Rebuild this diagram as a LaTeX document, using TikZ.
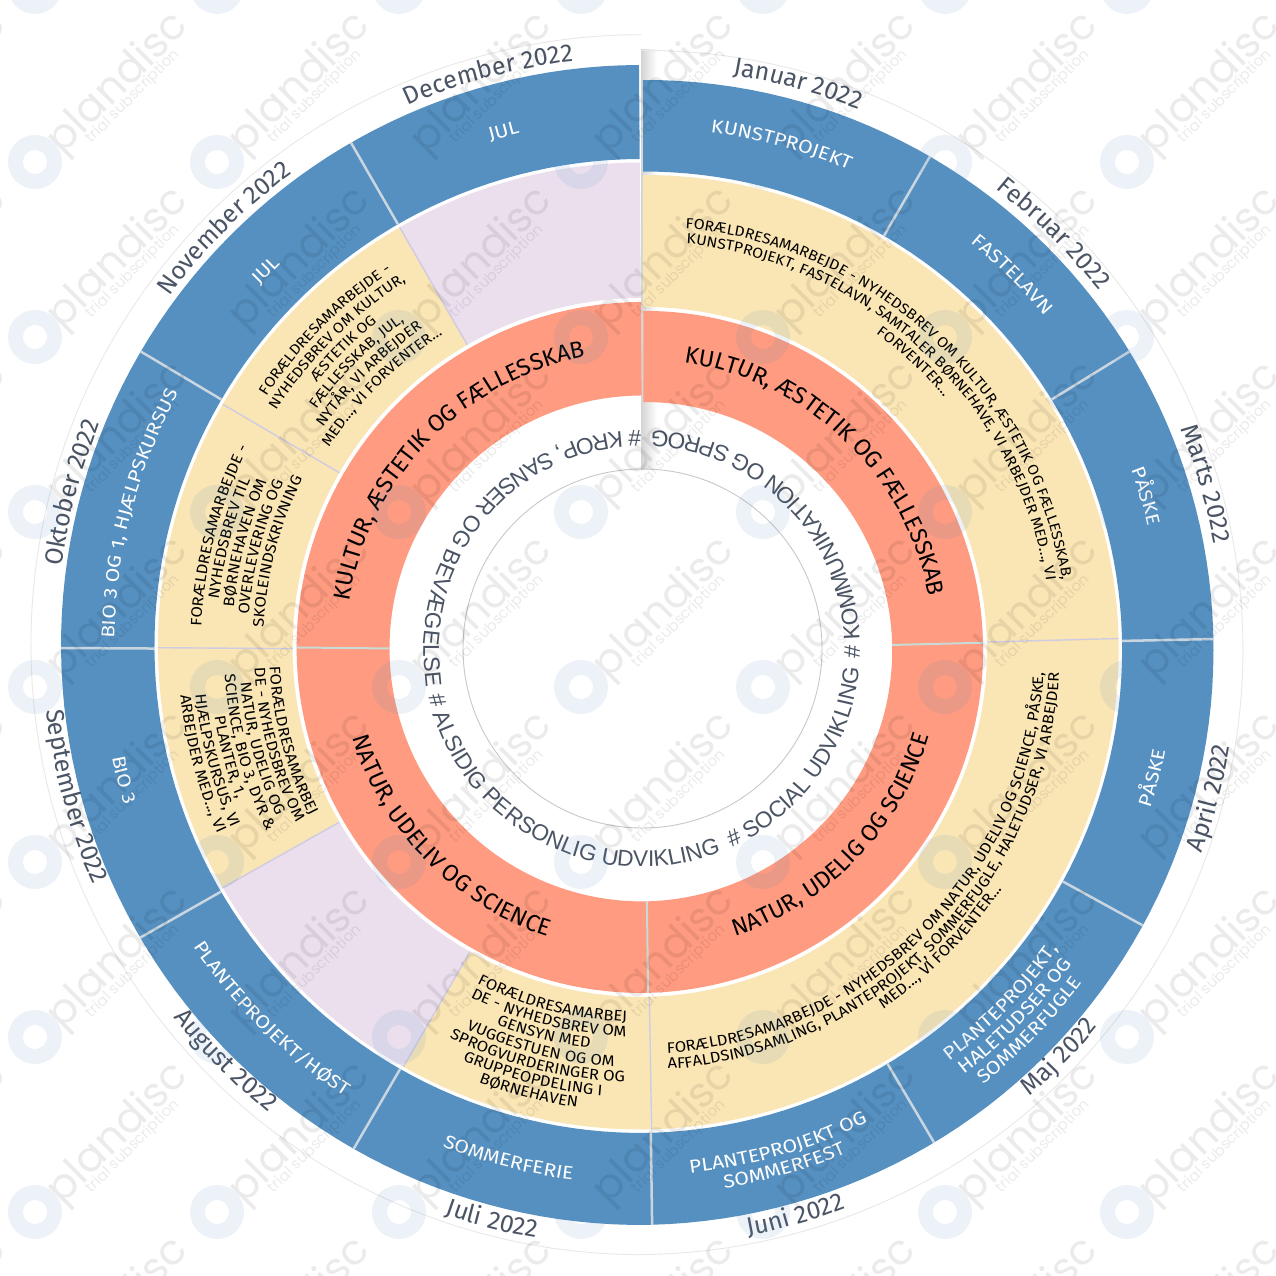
\documentclass[tikz,border=0pt]{standalone}
\usepackage{fontspec}
\setmainfont{Fira Sans}
\newfontfamily\inrfont{Liberation Sans}
\newfontfamily\wmfont{Poppins}
\newfontfamily\yelfont{Fira Sans}[FakeStretch=1.09]
\newfontfamily\blufont{Fira Sans}[FakeStretch=1.14]
\usetikzlibrary{decorations.text}
\definecolor{bandblue}{HTML}{5590C1}
\definecolor{bandyellow}{HTML}{FAE5B5}
\definecolor{bandcoral}{HTML}{FE9B80}
\definecolor{bandpurple}{HTML}{EBDFEE}
\definecolor{monthgray}{HTML}{4A5464}
\definecolor{sepblue}{HTML}{C9D6E0}
\definecolor{sepyellow}{HTML}{CFCBE2}
\definecolor{sepcoral}{HTML}{C8DBD6}
\definecolor{thinouter}{HTML}{E8E8E8}
\definecolor{thininner}{HTML}{C8C8C8}
\newcommand\fmonth{\color{monthgray}\fontsize{25}{26}\selectfont}
\newcommand\fblue{\blufont\color{white}\fontsize{18.5}{19}\selectfont}
\newcommand\fyel{\yelfont\color{black}\fontsize{14.5}{15}\selectfont}
\newcommand\fyelb{\yelfont\color{black}\fontsize{15.2}{16}\selectfont}
\newcommand\fcor{\color{black}\fontsize{23.5}{24}\selectfont}
\newcommand\finner{\inrfont\color{monthgray}\fontsize{22.7}{23}\selectfont}
% band: from angle, to angle, inner r, outer r, colour
\newcommand\band[6]{\fill[#5] plot[domain=#1:#2,samples=#6] ({fcx(#4)+#4*fsc(\x)*sin(\x)},{fcy(#4)+#4*fsc(\x)*cos(\x)}) -- plot[domain=#2:#1,samples=#6] ({fcx(#3)+#3*fsc(\x)*sin(\x)},{fcy(#3)+#3*fsc(\x)*cos(\x)}) -- cycle;}
% separator: angle, inner r, outer r, style
\newcommand\sepline[4]{\draw[#4] ({fcx(#2)+#2*fsc(#1)*sin(#1)},{fcy(#2)+#2*fsc(#1)*cos(#1)}) -- ({fcx(#3)+#3*fsc(#1)*sin(#1)},{fcy(#3)+#3*fsc(#1)*cos(#1)});}
% curved text: centre angle, half span, r, direction(+1 clockwise,-1 anticlockwise), format, text
\newcommand\ctxt[6]{\pgfmathsetmacro\aA{#1-(#4)*#2}\pgfmathsetmacro\aB{#1+(#4)*#2}%
\path[decorate,decoration={text along path,text align=center,text={|#5|#6}}] plot[domain=\aA:\aB,samples=14] ({fcx(#3)+#3*fsc(\x)*sin(\x)},{fcy(#3)+#3*fsc(\x)*cos(\x)});}
% inner ring text: centre angle, text (anticlockwise)
\newcommand\itxt[2]{\pgfmathsetmacro\aA{#1+65}\pgfmathsetmacro\aB{#1-65}%
\path[decorate,decoration={text along path,text align=center,text={|\finner|#2}}] plot[domain=\aA:\aB,samples=24] ({641.7+218.5*sin(\x)},{626.3+218.5*cos(\x)});}
\begin{document}
\begin{tikzpicture}[x=1pt,y=1pt,
  declare function={fsc(\t)=(565+15*min(\t/180,1))/580; fcx(\r)=642.5-1.5*(\r-250)/330; fcy(\r)=1275-(648.5-3.5*(\r-250)/330);},
  sepb/.style={sepblue,line width=2.5pt},
  sepy/.style={sepyellow,line width=1.4pt},
  sepc/.style={sepcoral,line width=2pt},
  wmword/.style={text=black,opacity=0.08,rotate=45,anchor=west,inner sep=0pt},
  wmlogo/.style={draw=bandblue,opacity=0.11,line width=15pt}]
\useasboundingbox (0,0) rectangle (1276,1275);
\clip (0,0) rectangle (1276,1275);
\fill[white] (0,0) rectangle (1276,1275);
% seam shadow
\shade[left color=black!17,right color=white] (641,1225) rectangle (657,805);
% thin circles
\draw[thinouter,line width=0.9pt] plot[domain=0:360,samples=200] ({fcx(610)+610*fsc(\x)*sin(\x)},{fcy(610)+610*fsc(\x)*cos(\x)});
\draw[thininner,line width=0.9pt] (642.5,626.5) circle[radius=179.5];
% blue ring
\band{0.2}{359.8}{487}{580}{bandblue}{200}
% middle ring
\band{0.2}{178.9}{349.5}{483.5}{bandyellow}{100}
\band{178.9}{209.5}{349.5}{483.5}{bandyellow}{20}
\band{209.5}{240}{349.5}{483.5}{bandpurple}{20}
\band{240}{330}{349.5}{483.5}{bandyellow}{50}
\band{330}{359.8}{349.5}{483.5}{bandpurple}{20}
% coral ring
\band{0.2}{359.8}{253}{345.5}{bandcoral}{200}
% separators
\foreach \a in {30.6,59,89.4,119.2,149.5,178.9,209.7,239.7,269.7,300.4,330}{\sepline{\a}{487}{580}{sepb}}
\foreach \a in {89.1,178.8,209.5,240,269.8,300,330}{\sepline{\a}{349.5}{483.5}{sepy}}
\foreach \a in {89.2,179,270}{\sepline{\a}{253}{345.5}{sepc}}
% months
\ctxt{15.6}{30}{592}{1}{\fmonth}{Januar 2022}
\ctxt{45}{30}{590}{1}{\fmonth}{Februar 2022}
\ctxt{74}{30}{591}{1}{\fmonth}{Marts 2022}
\ctxt{105}{30}{605}{-1}{\fmonth}{April 2022}
\ctxt{134.5}{30}{600}{-1}{\fmonth}{Maj 2022}
\ctxt{164.8}{30}{602}{-1}{\fmonth}{Juni 2022}
\ctxt{194.5}{30}{603}{-1}{\fmonth}{Juli 2022}
\ctxt{225}{30}{598}{-1}{\fmonth}{August 2022}
\ctxt{255}{30}{598}{-1}{\fmonth}{September 2022}
\ctxt{285}{30}{585}{1}{\fmonth}{Oktober 2022}
\ctxt{315}{30}{587}{1}{\fmonth}{November 2022}
\ctxt{345}{30}{588}{1}{\fmonth}{December 2022}
% blue labels
\ctxt{15.6}{25}{531}{1}{\fblue}{KUNSTPROJEKT}
\ctxt{45}{25}{531}{1}{\fblue}{FASTELAVN}
\ctxt{73.5}{25}{529}{1}{\fblue}{PÅSKE}
\ctxt{104.5}{25}{541}{-1}{\fblue}{PÅSKE}
\ctxt{134.7}{25}{520}{-1}{\fblue}{PLANTEPROJEKT,}
\ctxt{134.7}{25}{540}{-1}{\fblue}{HALETUDSER OG}
\ctxt{134.7}{25}{560}{-1}{\fblue}{SOMMERFUGLE}
\ctxt{164.6}{25}{530}{-1}{\fblue}{PLANTEPROJEKT OG}
\ctxt{164.6}{25}{550}{-1}{\fblue}{SOMMERFEST}
\ctxt{194.5}{25}{539}{-1}{\fblue}{SOMMERFERIE}
\ctxt{224.7}{25}{540}{-1}{\fblue}{PLANTEPROJEKT/HØST}
\ctxt{255.4}{25}{541}{-1}{\fblue}{BIO 3}
\ctxt{284.7}{25}{527}{1}{\fblue}{BIO 3 OG 1, HJÆLPSKURSUS}
\ctxt{315}{25}{525}{1}{\fblue}{JUL}
\ctxt{345}{25}{527}{1}{\fblue}{JUL}
% yellow block Jan-Mar
\ctxt{43.5}{43}{432}{1}{\fyel}{FORÆLDRESAMARBEJDE - NYHEDSBREV OM KULTUR, ÆSTETIK OG FÆLLESSKAB,}
\ctxt{43.5}{43}{416}{1}{\fyel}{KUNSTPROJEKT, FASTELAVN, SAMTALER BØRNEHAVE, VI ARBEJDER MED..., VI}
\ctxt{43.5}{43}{400}{1}{\fyel}{FORVENTER...}
% yellow block Apr-Jun
\ctxt{135}{46}{408}{-1}{\fyelb}{FORÆLDRESAMARBEJDE - NYHEDSBREV OM NATUR, UDELIV OG SCIENCE, PÅSKE,}
\ctxt{135}{46}{424}{-1}{\fyelb}{AFFALDSINDSAMLING, PLANTEPROJEKT, SOMMERFUGLE, HALETUDSER, VI ARBEJDER}
\ctxt{135}{46}{438}{-1}{\fyelb}{MED..., VI FORVENTER...}
% yellow block Jul
\ctxt{194.2}{20}{375}{-1}{\fyelb}{FORÆLDRESAMARBEJ}
\ctxt{194.2}{20}{390}{-1}{\fyelb}{DE - NYHEDSBREV OM}
\ctxt{194.2}{20}{405}{-1}{\fyelb}{GENSYN MED}
\ctxt{194.2}{20}{421}{-1}{\fyelb}{VUGGESTUEN OG OM}
\ctxt{194.2}{20}{436}{-1}{\fyelb}{SPROGVURDERINGER OG}
\ctxt{194.2}{20}{451}{-1}{\fyelb}{GRUPPEOPDELING I}
\ctxt{194.2}{20}{466}{-1}{\fyelb}{BØRNEHAVEN}
% yellow block Sep
\ctxt{255}{20}{373}{-1}{\fyelb}{FORÆLDRESAMARBEJ}
\ctxt{255}{20}{388}{-1}{\fyelb}{DE - NYHEDSBREV OM}
\ctxt{255}{20}{403}{-1}{\fyelb}{NATUR, UDELIG OG}
\ctxt{255}{20}{418}{-1}{\fyelb}{SCIENCE, BIO 3, DYR {\&}}
\ctxt{255}{20}{433}{-1}{\fyelb}{PLANTER, 1,}
\ctxt{255}{20}{449}{-1}{\fyelb}{HJÆLPSKURSUS, VI}
\ctxt{255}{20}{464}{-1}{\fyelb}{ARBEJDER MED..., VI}
% yellow block Oct
\ctxt{284.7}{20}{441}{1}{\fyelb}{FORÆLDRESAMARBEJDE -}
\ctxt{284.7}{20}{425.5}{1}{\fyelb}{NYHEDSBREV TIL}
\ctxt{284.7}{20}{410}{1}{\fyelb}{BØRNEHAVEN OM}
\ctxt{284.7}{20}{394.5}{1}{\fyelb}{OVERLEVERING OG}
\ctxt{284.7}{20}{379}{1}{\fyelb}{SKOLEINDSKRIVNING}
% yellow block Nov
\ctxt{315}{20}{451}{1}{\fyel}{FORÆLDRESAMARBEJDE -}
\ctxt{315}{20}{435}{1}{\fyel}{NYHEDSBREV OM KULTUR,}
\ctxt{315}{20}{419}{1}{\fyel}{ÆSTETIK OG}
\ctxt{315}{20}{403}{1}{\fyel}{FÆLLESSKAB, JUL,}
\ctxt{315}{20}{387}{1}{\fyel}{NYTÅR, VI ARBEJDER}
\ctxt{315}{20}{371}{1}{\fyel}{MED..., VI FORVENTER...}
% coral labels
\ctxt{44}{44}{296}{1}{\fcor}{KULTUR, ÆSTETIK OG FÆLLESSKAB}
\ctxt{134.5}{44}{304}{-1}{\fcor}{NATUR, UDELIG OG SCIENCE}
\ctxt{225.5}{44}{304}{-1}{\fcor}{NATUR, UDELIV OG SCIENCE}
\ctxt{314}{44}{297}{1}{\fcor}{KULTUR, ÆSTETIK OG FÆLLESSKAB}
% inner ring
\itxt{309.85}{{\#} KROP, SANSER OG BEVÆGELSE}
\itxt{208.1}{{\#} ALSIDIG PERSONLIG UDVIKLING}
\itxt{125.4}{{\#} SOCIAL UDVIKLING}
\itxt{47.5}{{\#} KOMMUNIKATION OG SPROG}
% watermark
\foreach \i in {-1,...,6}{\foreach \j in {-1,...,7}{
  \pgfmathsetmacro\wx{35+182*\i}\pgfmathsetmacro\wy{1275-(162+175*\j)}
  \draw[wmlogo] (\wx,\wy) circle[radius=19.5];
  \node[wmword,font=\wmfont\fontsize{42}{42}\selectfont] (wma\i\j) at (\wx+20,\wy+14) {plandisc};
  \node[wmword,font=\wmfont\fontsize{15}{16}\selectfont] (wmb\i\j) at (\wx+54,\wy+21) {trial subscription};
}}
\end{tikzpicture}
\end{document}
